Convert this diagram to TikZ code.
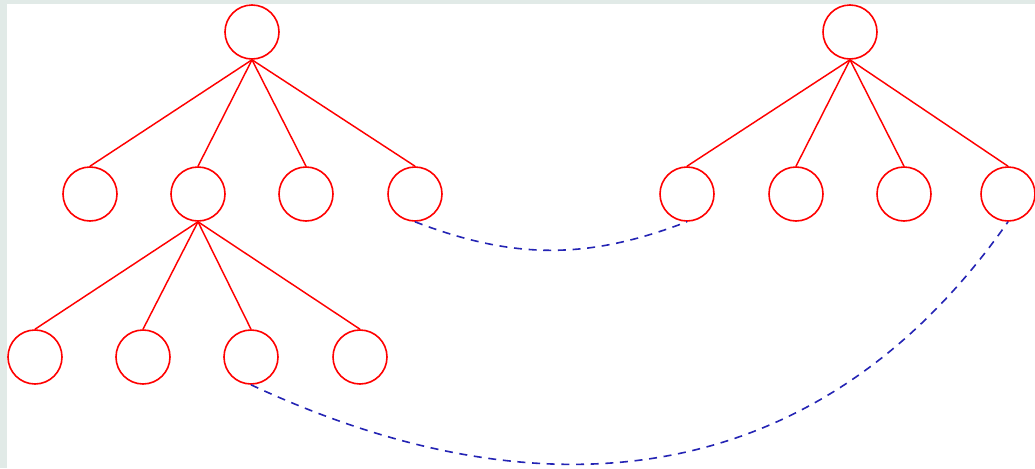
\documentclass[tikz,border=0pt]{standalone}
\usepackage{tikz}

\definecolor{framegray}{HTML}{E1EAE7}
\definecolor{linkblue}{HTML}{2424B4}

\begin{document}
\begin{tikzpicture}[
  x=0.75pt, y=0.75pt,
  vertex/.style={draw=red, circle, line width=1.2pt, minimum size=40.5pt, inner sep=0pt},
  edge/.style={draw=red, line width=1.1pt},
  link/.style={draw=linkblue, line width=1.2pt, dash pattern=on 6pt off 5pt}
]
\useasboundingbox (0,0) rectangle (1035,-468);
\fill[framegray] (0,0) rectangle (1035,-468);
\fill[white] (7,-4) rectangle (1035,-468);

% left tree
\node[vertex] (r1) at (252,-32) {};
\node[vertex] (a1) at (90,-194) {};
\node[vertex] (a2) at (198,-194) {};
\node[vertex] (a3) at (306,-194) {};
\node[vertex] (a4) at (415,-194) {};
\node[vertex] (b1) at (35,-357) {};
\node[vertex] (b2) at (143,-357) {};
\node[vertex] (b3) at (251,-357) {};
\node[vertex] (b4) at (360,-357) {};

% right tree
\node[vertex] (r2) at (850,-32) {};
\node[vertex] (c1) at (687,-194) {};
\node[vertex] (c2) at (796,-194) {};
\node[vertex] (c3) at (904,-194) {};
\node[vertex] (c4) at (1008,-194) {};

\draw[edge] (r1.south) -- (a1.north);
\draw[edge] (r1.south) -- (a2.north);
\draw[edge] (r1.south) -- (a3.north);
\draw[edge] (r1.south) -- (a4.north);
\draw[edge] (a2.south) -- (b1.north);
\draw[edge] (a2.south) -- (b2.north);
\draw[edge] (a2.south) -- (b3.north);
\draw[edge] (a2.south) -- (b4.north);
\draw[edge] (r2.south) -- (c1.north);
\draw[edge] (r2.south) -- (c2.north);
\draw[edge] (r2.south) -- (c3.north);
\draw[edge] (r2.south) -- (c4.north);

% dashed links
\draw[link] (a4.south) to[out=-21, in=-159] (c1.south);
\draw[link] (b3.south) to[out=-25, in=-125, looseness=1.08] (c4.south);
\end{tikzpicture}
\end{document}
